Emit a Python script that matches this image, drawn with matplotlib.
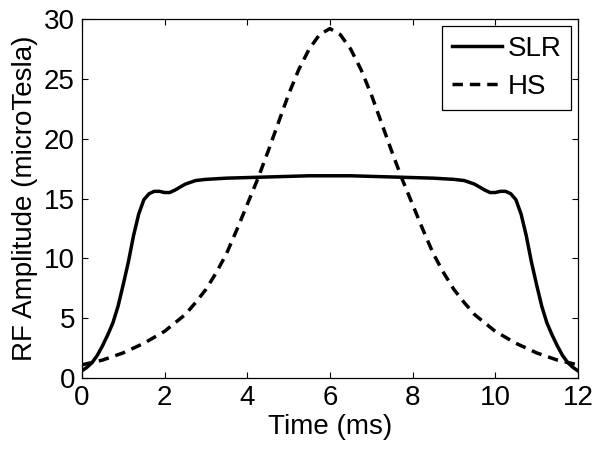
import matplotlib
matplotlib.use('Agg')
from matplotlib import pyplot as plt

plt.rcParams['font.family'] = ['Liberation Sans', 'DejaVu Sans']

# SLR pulse amplitude (microTesla) vs time (ms)
slr_t = [0, 0.125, 0.25, 0.375, 0.5, 0.625, 0.75, 0.875, 1.0, 1.125, 1.25,
         1.375, 1.5, 1.625, 1.75, 1.875, 2.0, 2.125, 2.25, 2.5, 2.75, 3.0,
         3.5, 4.0, 4.5, 5.0, 5.5, 6.0,
         6.5, 7.0, 7.5, 8.0, 8.5, 9.0, 9.25, 9.5, 9.75, 9.875, 10.0, 10.125,
         10.25, 10.375, 10.5, 10.625, 10.75, 10.875, 11.0, 11.125, 11.25,
         11.375, 11.5, 11.625, 11.75, 11.875, 12.0]
slr_v = [0.6, 0.9, 1.3, 1.9, 2.7, 3.6, 4.6, 6.0, 7.8, 9.7, 11.9,
         13.7, 14.9, 15.4, 15.6, 15.6, 15.5, 15.5, 15.7, 16.2, 16.5, 16.6,
         16.7, 16.75, 16.8, 16.85, 16.9, 16.9,
         16.9, 16.85, 16.8, 16.75, 16.7, 16.6, 16.5, 16.2, 15.7, 15.5, 15.5,
         15.6, 15.6, 15.4, 14.9, 13.7, 11.9, 9.7, 7.8, 6.0, 4.6,
         3.6, 2.7, 1.9, 1.3, 0.9, 0.6]

# HS pulse amplitude
hs_t = [0, 0.25, 0.5, 0.75, 1.0, 1.25, 1.5, 1.75, 2.0, 2.25, 2.5, 2.75,
        3.0, 3.25, 3.5, 3.75, 4.0, 4.25, 4.5, 4.75, 5.0, 5.25, 5.5, 5.75,
        6.0, 6.25, 6.5, 6.75, 7.0, 7.25, 7.5, 7.75, 8.0, 8.25, 8.5, 8.75,
        9.0, 9.25, 9.5, 9.75, 10.0, 10.25, 10.5, 10.75, 11.0, 11.25, 11.5,
        11.75, 12.0]
hs_v = [1.1, 1.3, 1.5, 1.8, 2.1, 2.5, 2.9, 3.4, 3.9, 4.6, 5.3, 6.3,
        7.4, 8.8, 10.4, 12.4, 14.5, 16.6, 18.9, 21.3, 23.7, 25.8, 27.5, 28.7,
        29.2, 28.7, 27.5, 25.8, 23.7, 21.3, 18.9, 16.6, 14.5, 12.4, 10.4, 8.8,
        7.4, 6.3, 5.3, 4.6, 3.9, 3.4, 2.9, 2.5, 2.1, 1.8, 1.5, 1.3, 1.1]

fig = plt.figure(figsize=(6.02, 4.54), dpi=100)
ax = fig.add_axes([0.136, 0.1674, 0.824, 0.7907])

ax.plot(slr_t, slr_v, color='black', lw=2.5, label='SLR')
ax.plot(hs_t, hs_v, color='black', lw=2.5, linestyle=(0, (3, 2)), label='HS')

ax.set_xlim(0, 12)
ax.set_ylim(0, 30)
ax.set_xticks(range(0, 13, 2))
ax.set_yticks(range(0, 31, 5))
ax.tick_params(direction='in', length=4, width=0.8, labelsize=20,
               top=True, right=True, pad=5)
for s in ax.spines.values():
    s.set_linewidth(0.9)

ax.set_xlabel('Time (ms)', fontsize=20, labelpad=2)
ax.set_ylabel('RF Amplitude (microTesla)', fontsize=20, labelpad=4)

leg = ax.legend(loc='upper right', fontsize=20, fancybox=False,
                edgecolor='black', framealpha=1, handlelength=1.8,
                handletextpad=0.2, borderaxespad=0.25, labelspacing=0.45,
                borderpad=0.35)
leg.get_frame().set_linewidth(0.9)

fig.savefig('out.png', dpi=100)
